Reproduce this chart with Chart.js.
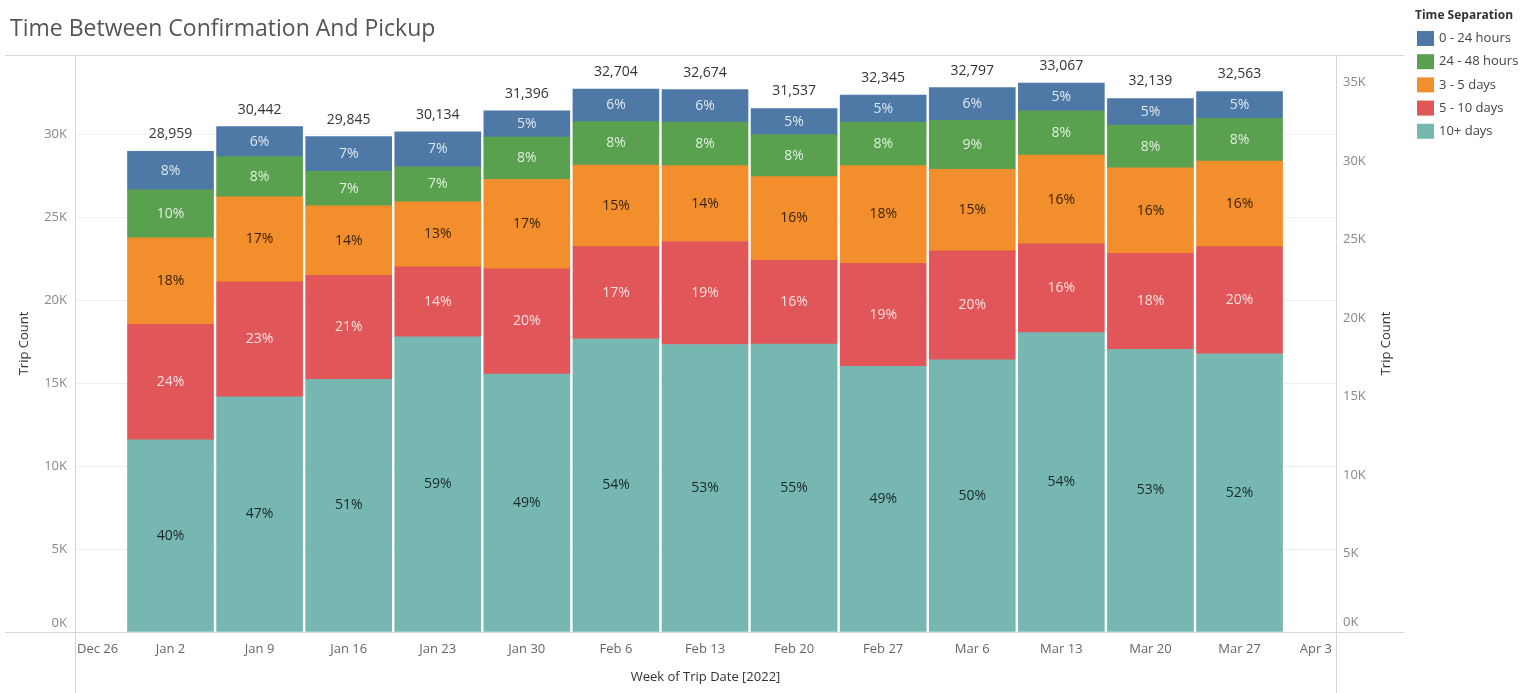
<!DOCTYPE html>
<html>
<head>
<meta charset="utf-8">
<title>Time Between Confirmation And Pickup</title>
<script src="https://cdn.jsdelivr.net/npm/chart.js@4.4.1/dist/chart.umd.min.js"></script>
<style>
  html, body { margin: 0; padding: 0; background: #fff; }
</style>
</head>
<body>
<canvas id="grafica" width="1526" height="693"></canvas>
<script>
// weeks shown on the time axis (Dec 26 and Apr 3 have no bars)
const axisWeeks = ['Dec 26', 'Jan 2', 'Jan 9', 'Jan 16', 'Jan 23', 'Jan 30', 'Feb 6', 'Feb 13',
                   'Feb 20', 'Feb 27', 'Mar 6', 'Mar 13', 'Mar 20', 'Mar 27', 'Apr 3'];
const barWeeks = axisWeeks.slice(1, 14);

// weekly trip totals
const totals = [28959, 30442, 29845, 30134, 31396, 32704, 32674, 31537, 32345, 32797, 33067, 32139, 32563];

// share of each week's trips per time separation (%)
const series = ['0 - 24 hours', '24 - 48 hours', '3 - 5 days', '5 - 10 days', '10+ days'];
const colors = ['#4e79a7', '#59a14f', '#f28e2b', '#e15759', '#76b7b2'];
const pct0to24h  = [8, 6, 7, 7, 5, 6, 6, 5, 5, 6, 5, 5, 5];
const pct24to48h = [10, 8, 7, 7, 8, 8, 8, 8, 8, 9, 8, 8, 8];
const pct3to5d   = [18, 17, 14, 13, 17, 15, 14, 16, 18, 15, 16, 16, 16];
const pct5to10d  = [24, 23, 21, 14, 20, 17, 19, 16, 19, 20, 16, 18, 20];
const pct10plus  = [40, 47, 51, 59, 49, 54, 53, 55, 49, 50, 54, 53, 52];

const leftTicks = [0, 5000, 10000, 15000, 20000, 25000, 30000];
const rightTicks = [0, 5000, 10000, 15000, 20000, 25000, 30000, 35000];

const pctRows = [pct0to24h, pct24to48h, pct3to5d, pct5to10d, pct10plus];
const labelColors = ['rgba(255,255,255,0.82)', 'rgba(255,255,255,0.82)', 'rgba(0,0,0,0.78)',
                     'rgba(255,255,255,0.82)', 'rgba(0,0,0,0.78)'];
const FONT = "'Open Sans', 'DejaVu Sans', sans-serif";
const TICK_COLOR = '#888';

// rounded shares don't always add to 100, scale them so each stack hits its total
const pctSums = totals.map((_, i) => pctRows.reduce((s, r) => s + r[i], 0));

// first dataset sits at the bottom of the stack
const datasets = [4, 3, 2, 1, 0].map(s => ({
    label: series[s],
    backgroundColor: colors[s],
    borderWidth: 0,
    barThickness: 86,
    yAxisID: 'y',
    pct: pctRows[s],
    pctColor: labelColors[s],
    data: barWeeks.map((w, i) => ({ x: i + 1, y: totals[i] * pctRows[s][i] / pctSums[i] }))
}));

const fmtK = v => (v / 1000) + 'K';
// the zero label is drawn separately, lifted off the baseline
const tickColor = c => (c.tick && c.tick.value === 0) ? 'rgba(0,0,0,0)' : TICK_COLOR;

// frame lines around the plot
const frameLines = {
    id: 'frameLines',
    afterDraw(chart) {
        const { ctx, chartArea: a } = chart;
        ctx.save();
        ctx.strokeStyle = '#d6d6d6';
        ctx.lineWidth = 1;
        ctx.beginPath();
        ctx.moveTo(5, a.top + 0.5); ctx.lineTo(1404, a.top + 0.5);
        ctx.moveTo(5, a.bottom + 0.5); ctx.lineTo(1404, a.bottom + 0.5);
        ctx.moveTo(a.left + 0.5, a.top); ctx.lineTo(a.left + 0.5, chart.height);
        ctx.moveTo(a.right + 0.5, a.top); ctx.lineTo(a.right + 0.5, chart.height);
        ctx.stroke();

        ctx.font = '13px ' + FONT;
        ctx.fillStyle = TICK_COLOR;
        ctx.textBaseline = 'middle';
        ctx.textAlign = 'right';
        ctx.fillText(fmtK(0), a.left - 8, chart.scales.y.getPixelForValue(0) - 9);
        ctx.textAlign = 'left';
        ctx.fillText(fmtK(0), a.right + 7, chart.scales.y2.getPixelForValue(0) - 10);
        ctx.restore();
    }
};

// percent labels inside the segments and totals above each stack
const barLabels = {
    id: 'barLabels',
    afterDatasetsDraw(chart) {
        const { ctx } = chart;
        const y = chart.scales.y, x = chart.scales.x;
        ctx.save();
        ctx.textAlign = 'center';
        ctx.textBaseline = 'middle';
        ctx.font = '14px ' + FONT;
        chart.data.datasets.forEach((ds, d) => {
            chart.getDatasetMeta(d).data.forEach((el, i) => {
                ctx.fillStyle = ds.pctColor;
                ctx.fillText(ds.pct[i] + '%', el.x, (el.y + el.base) / 2);
            });
        });
        ctx.fillStyle = '#333';
        totals.forEach((t, i) => {
            ctx.fillText(t.toLocaleString('en-US'), x.getPixelForValue(i + 1), y.getPixelForValue(t) - 17);
        });
        ctx.restore();
    }
};

// week labels, kept inside the plot edges
const weekLabels = {
    id: 'weekLabels',
    afterDraw(chart) {
        const { ctx, chartArea: a } = chart;
        const x = chart.scales.x;
        ctx.save();
        ctx.font = '13px ' + FONT;
        ctx.fillStyle = '#666';
        ctx.textAlign = 'center';
        ctx.textBaseline = 'middle';
        axisWeeks.forEach((w, i) => {
            const half = ctx.measureText(w).width / 2;
            let px = x.getPixelForValue(i);
            px = Math.max(a.left + 2 + half, Math.min(a.right - 4 - half, px));
            ctx.fillText(w, px, a.bottom + 17);
        });
        ctx.restore();
    }
};

// right axis title reads bottom to top like the left one
const rightTitle = {
    id: 'rightTitle',
    afterDraw(chart) {
        const { ctx, chartArea: a } = chart;
        ctx.save();
        ctx.translate(1386, (a.top + a.bottom) / 2);
        ctx.rotate(-Math.PI / 2);
        ctx.font = '13px ' + FONT;
        ctx.fillStyle = '#333';
        ctx.textAlign = 'center';
        ctx.textBaseline = 'middle';
        ctx.fillText('Trip Count', 0, 0);
        ctx.restore();
    }
};

const legendBox = {
    id: 'legendBox',
    afterDraw(chart) {
        const { ctx } = chart;
        ctx.save();
        ctx.textBaseline = 'middle';
        ctx.font = 'bold 12px ' + FONT;
        ctx.fillStyle = '#333';
        ctx.fillText('Time Separation', 1415, 16);
        ctx.font = '13px ' + FONT;
        series.forEach((s, i) => {
            const cy = 38.5 + i * 23.2;
            ctx.fillStyle = colors[i];
            ctx.fillRect(1417, cy - 7.5, 17, 15);
            ctx.fillStyle = '#444';
            ctx.fillText(s, 1439, cy);
        });
        ctx.restore();
    }
};

new Chart(document.getElementById('grafica').getContext('2d'), {
    type: 'bar',
    data: { datasets },
    options: {
        responsive: false,
        animation: false,
        devicePixelRatio: 1,
        layout: { padding: { left: 10, right: 0, top: 0, bottom: 0 } },
        plugins: {
            legend: { display: false },
            tooltip: { enabled: false },
            title: {
                display: true,
                text: 'Time Between Confirmation And Pickup',
                align: 'start',
                color: '#555',
                font: { family: FONT, size: 23, weight: 'normal', lineHeight: 1.2 },
                padding: { top: 16, bottom: 11.4 }
            }
        },
        scales: {
            x: {
                type: 'linear',
                stacked: true,
                offset: false,
                min: -0.072,
                max: 14.083,
                grid: { display: false, drawTicks: false },
                border: { display: false },
                ticks: { display: false },
                afterBuildTicks: s => { s.ticks = axisWeeks.map((w, i) => ({ value: i })); },
                afterFit: s => { s.height = 61; },
                title: {
                    display: true,
                    text: 'Week of Trip Date [2022]',
                    color: '#333',
                    font: { family: FONT, size: 13, lineHeight: 1.2 },
                    padding: { top: 0, bottom: 8.2 }
                }
            },
            y: {
                position: 'left',
                stacked: true,
                min: 0,
                max: 34760,
                grid: { color: '#efefef', drawTicks: false },
                border: { display: false },
                afterBuildTicks: s => { s.ticks = leftTicks.map(v => ({ value: v })); },
                afterFit: s => { s.width = 65; },
                ticks: {
                    padding: 8,
                    color: tickColor,
                    font: { family: FONT, size: 13 },
                    callback: fmtK
                },
                title: {
                    display: true,
                    text: 'Trip Count',
                    color: '#333',
                    font: { family: FONT, size: 13, lineHeight: 1.2 },
                    padding: { top: 6.2, bottom: 0 }
                }
            },
            y2: {
                position: 'right',
                min: 0,
                max: 36750,
                grid: { display: false, drawTicks: false },
                border: { display: false },
                afterBuildTicks: s => { s.ticks = rightTicks.map(v => ({ value: v })); },
                afterFit: s => { s.width = 190; },
                ticks: {
                    padding: 7,
                    color: tickColor,
                    font: { family: FONT, size: 13 },
                    callback: fmtK
                }
            }
        }
    },
    plugins: [frameLines, barLabels, weekLabels, rightTitle, legendBox]
});
</script>
</body>
</html>
